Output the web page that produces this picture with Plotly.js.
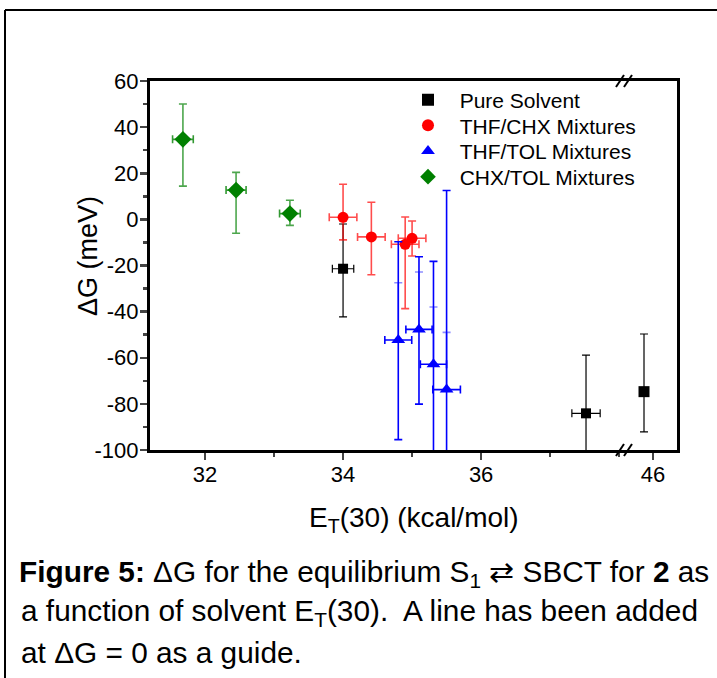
<!DOCTYPE html>
<html>
<head>
<meta charset="utf-8">
<script src="https://cdn.plot.ly/plotly-3.0.1.min.js"></script>
<style>
  html, body { margin: 0; padding: 0; background: #fff; }
  #chart { width: 717px; height: 678px; }
</style>
</head>
<body>
<div id="chart"></div>
<script>
// ---- Data ----
const seriesNames = ["Pure Solvent", "THF/CHX Mixtures", "THF/TOL Mixtures", "CHX/TOL Mixtures"];

// Pure solvent points on the left (broken) segment
const pureX = [34.0, 37.52];
const pureY = [-21.4, -84.1];
const pureUp = [19.4, 25.2];
const pureDown = [20.9, 30.0];
const pureXErr = [0.155, 0.205];

// Pure solvent point on the right segment (after the axis break)
const pureHighX = [45.87];
const pureHighY = [-74.7];
const pureHighUp = [25.0];
const pureHighDown = [17.4];

const thfChxX = [34.0, 34.41, 34.9, 35.0];
const thfChxY = [0.9, -7.6, -10.8, -8.2];
const thfChxUp = [14.3, 15.0, 11.8, 7.5];
const thfChxDown = [9.8, 16.4, 27.9, 7.7];
const thfChxXErr = [0.2, 0.2, 0.2, 0.2];

const thfTolX = [34.8, 35.1, 35.31, 35.5];
const thfTolY = [-52.3, -47.7, -62.8, -73.8];
const thfTolUp = [42.6, 31.5, 44.6, 86.3];
const thfTolDown = [43.2, 32.4, 45.0, 45.0];
const thfTolInnerUp = [24.8, 24.9, 24.8, 24.8];
const thfTolXErr = [0.195, 0.19, 0.19, 0.2];

const chxTolX = [31.68, 32.45, 33.23];
const chxTolY = [34.7, 12.7, 2.5];
const chxTolUp = [15.3, 7.7, 5.8];
const chxTolDown = [20.3, 18.7, 5.1];
const chxTolXErr = [0.15, 0.145, 0.15];

const xTickVals = [32, 34, 36];
const xTickVals2 = [46];
const yTickVals = [-100, -80, -60, -40, -20, 0, 20, 40, 60];
const yTickText = ["-100", "-80", "-60", "-40", "-20", "0", "20", "40", "60"];

const xTitle = 'E<sub>T</sub>(30) (kcal/mol)';
const yTitle = '\u0394G (meV)';
const captionLines = [
  "<b>Figure 5:</b> \u0394G for the equilibrium S<sub>1</sub> \u21c4 SBCT for <b>2</b> as",
  "a function of solvent E<sub>T</sub>(30).\u00a0 A line has been added",
  "at \u0394G = 0 as a guide."
];

// ---- Layout geometry ----
const W = 717, H = 678;
const M = {l: 150, r: 40, t: 81, b: 228};
const PW = W - M.l - M.r, PH = H - M.t - M.b;
const breakFrac = 0.8994;
const px2x = p => (p - M.l) / PW;
const px2y = p => (H - M.b - p) / PH;

function errY(up, down, color, thick) {
  return {type: 'data', symmetric: false, array: up, arrayminus: down,
          color: color, thickness: thick, width: 4};
}
function errX(vals, color, thick) {
  return {type: 'data', array: vals, color: color, thickness: thick, width: 4};
}
const pad = s => '\u00a0\u00a0' + s;

const traces = [
  {x: pureX, y: pureY, name: pad(seriesNames[0]), mode: 'markers', type: 'scatter',
   xaxis: 'x', yaxis: 'y', legend: 'legend',
   marker: {symbol: 'square', size: 10, color: '#000000'},
   error_y: errY(pureUp, pureDown, '#000000', 1.2),
   error_x: errX(pureXErr, '#000000', 1.2)},
  {x: pureHighX, y: pureHighY, name: pad(seriesNames[0]), mode: 'markers', type: 'scatter',
   xaxis: 'x2', yaxis: 'y2', showlegend: false,
   marker: {symbol: 'square', size: 11, color: '#000000'},
   error_y: errY(pureHighUp, pureHighDown, '#000000', 1.2)},
  {x: thfChxX, y: thfChxY, name: pad(seriesNames[1]), mode: 'markers', type: 'scatter',
   xaxis: 'x', yaxis: 'y', legend: 'legend2',
   marker: {symbol: 'circle', size: 11, color: '#ff0000'},
   error_y: errY(thfChxUp, thfChxDown, 'rgba(255,0,0,0.7)', 1.6),
   error_x: errX(thfChxXErr, 'rgba(255,0,0,0.7)', 1.6)},
  {x: thfTolX, y: thfTolY, name: 'inner', mode: 'markers', type: 'scatter',
   xaxis: 'x', yaxis: 'y', showlegend: false, hoverinfo: 'skip',
   marker: {size: 1, opacity: 0},
   error_y: {type: 'data', symmetric: false, array: thfTolInnerUp, arrayminus: thfTolInnerUp.map(() => 0),
             color: 'rgba(0,0,255,0.45)', thickness: 1.6, width: 4}},
  {x: thfTolX, y: thfTolY, name: pad(seriesNames[2]), mode: 'markers', type: 'scatter',
   xaxis: 'x', yaxis: 'y', legend: 'legend3',
   marker: {symbol: 'triangle-up', size: 12, color: '#0000ff'},
   error_y: errY(thfTolUp, thfTolDown, '#0000ff', 1.6),
   error_x: errX(thfTolXErr, '#0000ff', 1.6)},
  {x: chxTolX, y: chxTolY, name: pad(seriesNames[3]), mode: 'markers', type: 'scatter',
   xaxis: 'x', yaxis: 'y', legend: 'legend4',
   marker: {symbol: 'diamond', size: 13, color: '#008000'},
   error_y: errY(chxTolUp, chxTolDown, 'rgba(0,128,0,0.7)', 1.6),
   error_x: errX(chxTolXErr, 'rgba(0,128,0,0.8)', 1.6)}
];

const fam = 'Liberation Sans, Arial, sans-serif';
const font = {family: fam, size: 21, color: '#000000'};
const tickFont = {family: fam, size: 22, color: '#000000'};

function slash(xa, ya, dx) {
  return {type: 'line', xref: 'paper', yref: 'paper',
          xsizemode: 'pixel', ysizemode: 'pixel', xanchor: xa, yanchor: ya,
          x0: dx - 4, x1: dx + 4, y0: -6, y1: 6,
          line: {color: '#000000', width: 2}};
}

const shapes = [
  {type: 'line', xref: 'paper', yref: 'paper', x0: px2x(5), x1: px2x(5), y0: px2y(10), y1: px2y(700),
   line: {color: '#000000', width: 2}},
  {type: 'line', xref: 'paper', yref: 'paper', x0: px2x(5), x1: px2x(740), y0: px2y(10), y1: px2y(10),
   line: {color: '#000000', width: 2}},
  slash(breakFrac, 1, -4), slash(breakFrac, 1, 4),
  slash(breakFrac, 0, -4), slash(breakFrac, 0, 4)
];

const capFont = {family: fam, size: 29.8, color: '#000000'};
const annotations = captionLines.map((t, i) => ({
  text: t, xref: 'paper', yref: 'paper',
  x: px2x(i === 0 ? 17 : 19), y: px2y([573, 612, 652][i]),
  xanchor: 'left', yanchor: 'middle', showarrow: false, font: capFont
}));
annotations.push({text: xTitle, xref: 'paper', yref: 'paper', x: 0.5, y: px2y(519),
  xanchor: 'center', yanchor: 'middle', showarrow: false,
  font: {family: fam, size: 28, color: '#000000'}});
annotations.push({text: yTitle, xref: 'paper', yref: 'paper', x: px2x(88), y: px2y(256),
  xanchor: 'center', yanchor: 'middle', showarrow: false, textangle: -90,
  font: {family: fam, size: 27, color: '#000000'}});

const legendRows = [100, 125.7, 151.3, 177];
const legendBase = {x: px2x(408), xanchor: 'left', yanchor: 'middle',
                    bgcolor: 'rgba(0,0,0,0)', font: font, itemsizing: 'constant', borderwidth: 0};
const layout = {
  width: W, height: H,
  margin: M,
  paper_bgcolor: '#ffffff', plot_bgcolor: '#ffffff',
  font: font,
  showlegend: true,
  legend: Object.assign({}, legendBase, {y: px2y(legendRows[0])}),
  legend2: Object.assign({}, legendBase, {y: px2y(legendRows[1])}),
  legend3: Object.assign({}, legendBase, {y: px2y(legendRows[2])}),
  legend4: Object.assign({}, legendBase, {y: px2y(legendRows[3])}),
  xaxis: {domain: [0, breakFrac], range: [31.203, 38.07], anchor: 'y',
          tickmode: 'array', tickvals: xTickVals, ticks: 'outside', ticklen: 7, tickwidth: 2.5,
          ticklabelstandoff: -4,
          minor: {dtick: 1, tick0: 0, ticks: 'outside', ticklen: 4, tickwidth: 2.5},
          showline: true, linewidth: 3, linecolor: '#000000', mirror: true,
          showgrid: false, zeroline: false, tickfont: tickFont},
  xaxis2: {domain: [breakFrac, 1], range: [45.58, 46.348], anchor: 'y2',
           tickmode: 'array', tickvals: xTickVals2, ticks: 'outside', ticklen: 7, tickwidth: 2.5,
           ticklabelstandoff: -4,
           showline: true, linewidth: 3, linecolor: '#000000', mirror: true,
           showgrid: false, zeroline: false, tickfont: tickFont},
  yaxis: {range: [-100, 60], anchor: 'x', tickmode: 'array', tickvals: yTickVals, ticktext: yTickText,
          ticks: 'outside', ticklen: 7, tickwidth: 2.5, ticklabelstandoff: -3,
          minor: {dtick: 10, tick0: 0, ticks: 'outside', ticklen: 4, tickwidth: 2.5},
          showline: true, linewidth: 3, linecolor: '#000000',
          showgrid: false, zeroline: false, tickfont: tickFont},
  yaxis2: {range: [-100, 60], anchor: 'x2', side: 'right', matches: 'y',
           showline: true, linewidth: 3, linecolor: '#000000', ticks: '',
           showticklabels: false, showgrid: false, zeroline: false},
  shapes: shapes,
  annotations: annotations
};

Plotly.newPlot('chart', traces, layout, {displayModeBar: false, staticPlot: true});
</script>
</body>
</html>
